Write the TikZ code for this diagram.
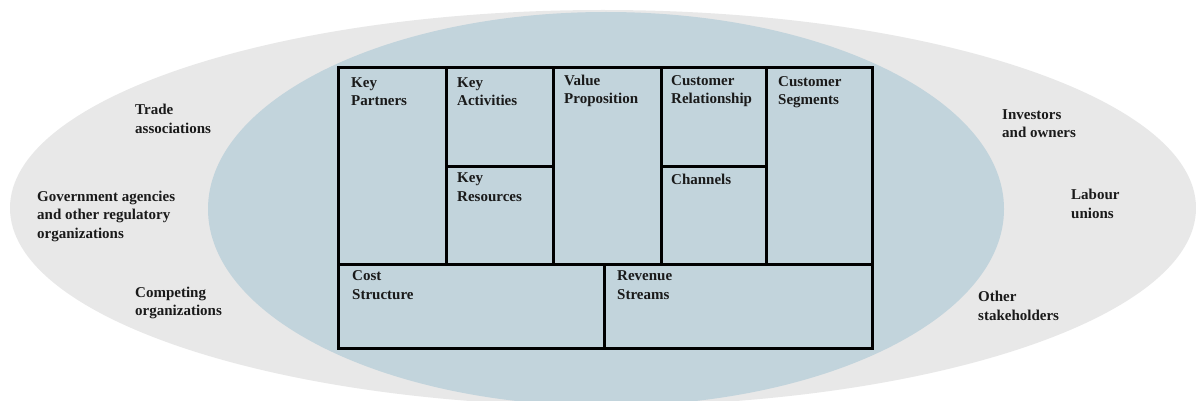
\documentclass[tikz,border=0pt]{standalone}
\usepackage{fontspec}
\setmainfont{Liberation Serif}
\definecolor{outergray}{HTML}{E8E8E8}
\definecolor{innerblue}{HTML}{C2D4DC}
\definecolor{inktext}{HTML}{1A1A1A}
\begin{document}
\begin{tikzpicture}[x=1pt,y=-1pt,
  gridline/.style={line width=3pt,draw=black,line cap=rect},
  % anchored at the baseline of the last line of each label
  celltext/.style={anchor=base west,inner sep=0pt,align=left,text=inktext,
    font=\fontsize{15}{18.3}\selectfont\bfseries},
  ringtext/.style={celltext}]
  \useasboundingbox (0,0) rectangle (1196,401);
  \clip (0,0) rectangle (1196,401);
  \fill[white] (0,0) rectangle (1196,401);

  % stakeholder ring and business model core
  \fill[outergray] (603,208) ellipse [x radius=593pt, y radius=198pt];
  \fill[innerblue] (606,209) ellipse [x radius=398pt, y radius=197pt];

  % canvas grid
  \coordinate (tl) at (338,68);
  \coordinate (br) at (872,348);
  \fill[innerblue] (tl) rectangle (br);
  \draw[gridline] (tl) rectangle (br);
  \draw[gridline] (338,264) -- (872,264);
  \draw[gridline] (446,68) -- (446,264);
  \draw[gridline] (553,68) -- (553,264);
  \draw[gridline] (661,68) -- (661,264);
  \draw[gridline] (766,68) -- (766,264);
  \draw[gridline] (446,166) -- (553,166);
  \draw[gridline] (661,166) -- (766,166);
  \draw[gridline] (604,264) -- (604,348);

  % canvas block titles
  \node[celltext] (kp) at (351,105.5) {Key\\Partners};
  \node[celltext] (ka) at (457,105.5) {Key\\Activities};
  \node[celltext] (vp) at (564,104) {Value\\Proposition};
  \node[celltext] (cr) at (671,104) {Customer\\Relationship};
  \node[celltext] (cs) at (778,105) {Customer\\Segments};
  \node[celltext] (kr) at (457,201) {Key\\Resources};
  \node[celltext] (ch) at (671,184) {Channels};
  \node[celltext] (cost) at (352,299) {Cost\\Structure};
  \node[celltext] (rev) at (617,299) {Revenue\\Streams};

  % surrounding stakeholders
  \node[ringtext] (trade) at (135,133) {Trade\\associations};
  \node[ringtext] (gov) at (37,238) {Government agencies\\and other regulatory\\organizations};
  \node[ringtext] (comp) at (135,315.5) {Competing\\organizations};
  \node[ringtext] (inv) at (1002,138) {Investors\\and owners};
  \node[ringtext] (lab) at (1071,218) {Labour\\unions};
  \node[ringtext] (oth) at (978,320) {Other\\stakeholders};
\end{tikzpicture}
\end{document}
